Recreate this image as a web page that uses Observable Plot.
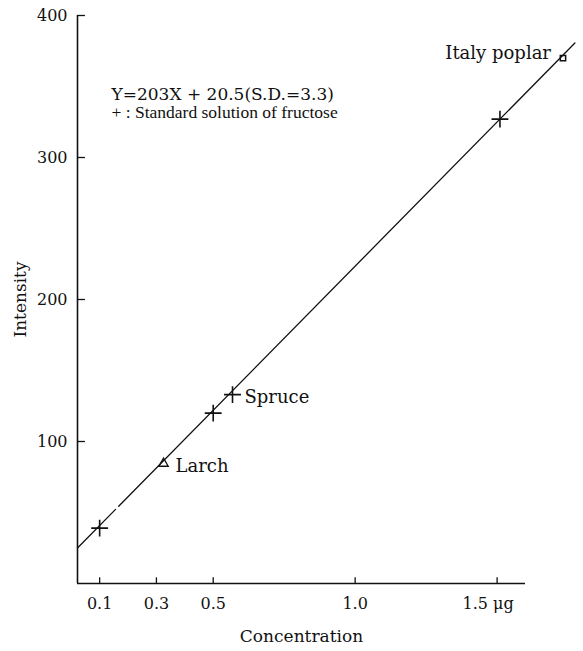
<!DOCTYPE html>
<html>
<head>
<meta charset="utf-8">
<script src="https://cdn.jsdelivr.net/npm/d3@7"></script>
<script src="https://cdn.jsdelivr.net/npm/@observablehq/plot@0.6"></script>
<style>
  html, body { margin: 0; padding: 0; background: #fff; }
  #chart svg { display: block; }
</style>
</head>
<body>
<div id="chart"></div>
<script>
// ---- data ----
const stdConc = [0.1, 0.5, 1.51];
const stdIntensity = [39, 120, 327];
const sampleNames = ["Larch", "Spruce", "Italy poplar"];
const sampleConc = [0.325, 0.568, 1.732];
const sampleIntensity = [84.5, 133, 370];
const sampleSymbols = ["triangle", "plus", "square"];
// regression line Y = 203X + 20.5, drawn as two segments (small gap near the origin)
const lineSeg = [0, 0, 1, 1];
const lineConc = [0.022, 0.156, 0.167, 1.774];
const lineIntensity = [25, 52.2, 54.4, 380.6];
const xTicks = [0.1, 0.3, 0.5, 1.0];
const xTickLast = [1.5];
const yTicks = [100, 200, 300, 400];
const equationText = "Y=203X + 20.5(S.D.=3.3)";
const legendText = "+ : Standard solution of fructose";
const xLabel = "Concentration";
const yLabel = "Intensity";

const xMin = 0.022, xMax = 1.6;

const stdPts = stdConc.map((c, i) => ({c, v: stdIntensity[i]}));
const samples = sampleNames.map((n, i) => ({n, c: sampleConc[i], v: sampleIntensity[i], s: sampleSymbols[i]}));
const linePts = lineSeg.map((g, i) => ({g, c: lineConc[i], v: lineIntensity[i]}));

const font = "DejaVu Serif";

const chart = Plot.plot({
  width: 583,
  height: 651,
  marginLeft: 77,
  marginRight: 58,
  marginTop: 15,
  marginBottom: 68,
  style: {fontFamily: font, fontSize: "16px", color: "#111", background: "#fff"},
  x: {domain: [xMin, xMax], axis: null},
  y: {domain: [0, 400], axis: null},
  marks: [
    // axis lines
    Plot.ruleX([xMin], {y1: 0, y2: 400, stroke: "#111", strokeWidth: 1.6}),
    Plot.ruleY([0], {x1: xMin, x2: xMax, stroke: "#111", strokeWidth: 1.6}),
    // inward tick marks
    Plot.ruleY(yTicks, {y: d => d, x1: xMin, x2: xMin + 0.028, stroke: "#111", strokeWidth: 1.3}),
    Plot.ruleX(xTicks.concat(xTickLast), {x: d => d, y1: 0, y2: 4, stroke: "#111", strokeWidth: 1.3}),
    // tick labels
    Plot.axisY({ticks: yTicks, tickSize: 0, tickPadding: 10, tickFormat: d => String(d), fontSize: 16, label: null}),
    Plot.axisY({ticks: [], tickSize: 0, label: yLabel, labelAnchor: "center", labelOffset: 64, labelArrow: "none", fontSize: 17}),
    Plot.axisX({ticks: xTicks, tickSize: 0, tickPadding: 14, tickFormat: d => d.toFixed(1), fontSize: 16, label: null}),
    Plot.axisX({ticks: xTickLast, tickSize: 0, tickPadding: 14, tickFormat: d => d.toFixed(1) + " μg", fontSize: 16, dx: -9, label: null}),
    Plot.axisX({ticks: [], tickSize: 0, label: xLabel, labelAnchor: "center", labelOffset: 58, labelArrow: "none", dx: 22, fontSize: 17}),
    // regression line
    Plot.line(linePts, {x: "c", y: "v", z: "g", stroke: "#111", strokeWidth: 1.3}),
    // standard solution points
    Plot.dot(stdPts, {x: "c", y: "v", symbol: "plus", r: 5.5, stroke: "#111", strokeWidth: 1.6}),
    // samples
    Plot.dot(samples.filter(d => d.s === "plus"), {x: "c", y: "v", symbol: "plus", r: 5.5, stroke: "#111", strokeWidth: 1.6}),
    Plot.dot(samples.filter(d => d.s === "triangle"), {x: "c", y: "v", symbol: "triangle", r: 3.5, stroke: "#111", strokeWidth: 1.3, fill: "none"}),
    Plot.dot(samples.filter(d => d.s === "square"), {x: "c", y: "v", symbol: "square", r: 3, stroke: "#111", strokeWidth: 1.5, fill: "none"}),
    Plot.text(samples.filter(d => d.n !== "Italy poplar"), {x: "c", y: "v", text: "n", textAnchor: "start", dx: 12, dy: 3, fontSize: 18, fill: "#111"}),
    Plot.text(samples.filter(d => d.n === "Italy poplar"), {x: "c", y: "v", text: "n", textAnchor: "end", dx: -12, dy: -5, fontSize: 18, fill: "#111"}),
    // annotation
    Plot.text([equationText], {frameAnchor: "top-left", dx: 34, dy: 72, fontSize: 17, fill: "#111"}),
    Plot.text([legendText], {frameAnchor: "top-left", dx: 34, dy: 90, fontSize: 17.5, fontFamily: "Liberation Serif", fill: "#111"})
  ]
});
document.getElementById("chart").appendChild(chart);
</script>
</body>
</html>
